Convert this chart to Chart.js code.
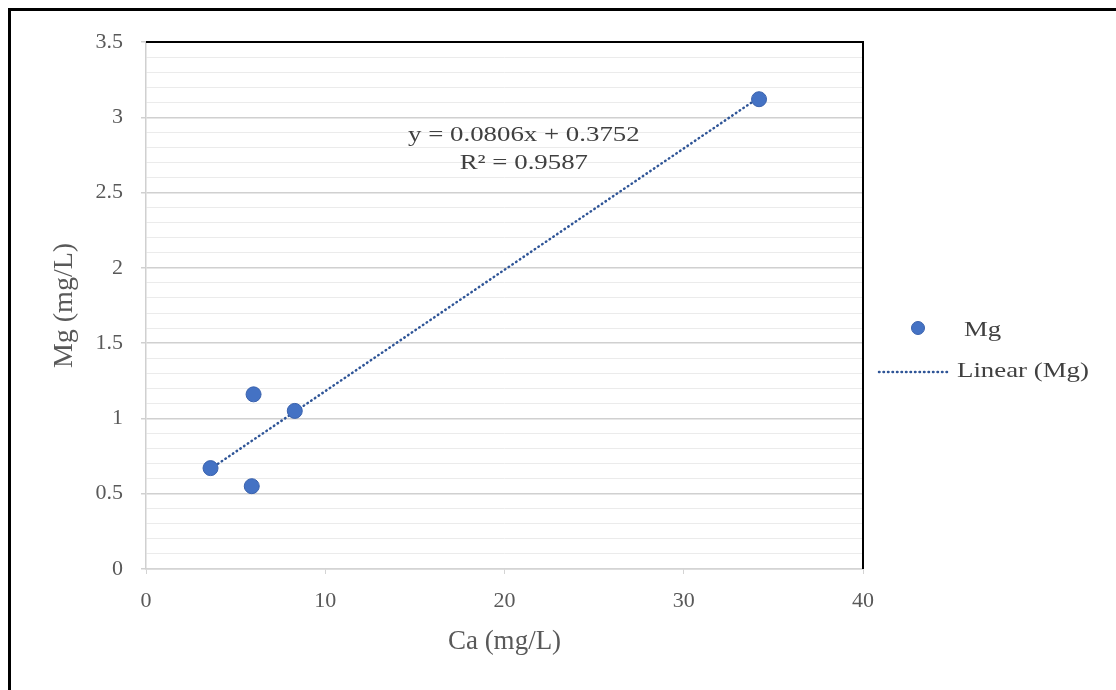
<!DOCTYPE html>
<html>
<head>
<meta charset="utf-8">
<script src="https://cdn.jsdelivr.net/npm/chart.js@4/dist/chart.umd.min.js"></script>
<style>
  html, body { margin: 0; padding: 0; background: #fff; }
  canvas { display: block; }
</style>
</head>
<body>
<canvas id="chart-scatter" width="1116" height="690"></canvas>
<script>
const SERIES_LABEL = "Mg";
const TREND_LABEL = "Linear (Mg)";
const caValues = [34.2, 8.3, 6.0, 3.6, 5.9];
const mgValues = [3.12, 1.05, 1.16, 0.67, 0.55];
const TREND_SLOPE = 0.0806;
const TREND_INTERCEPT = 0.3752;
const equationLines = ["y = 0.0806x + 0.3752", "R² = 0.9587"];
const xTicks = [0, 10, 20, 30, 40];
const yMajorTicks = [0, 0.5, 1, 1.5, 2, 2.5, 3, 3.5];

const FONT = "'Liberation Serif', 'Times New Roman', serif";
const TEXT_COLOR = "#595959";
const POINT_COLOR = "#4472C4";
const TEXT_STRETCH = 1.22; // текст в оригинале шире обычного Times

const points = caValues.map((x, i) => ({ x: x, y: mgValues[i] }));
const xMin = Math.min(...caValues);
const xMax = Math.max(...caValues);
const trendPoints = [
  { x: xMin, y: TREND_SLOPE * xMin + TREND_INTERCEPT },
  { x: xMax, y: TREND_SLOPE * xMax + TREND_INTERCEPT },
];

function isMajor(v) {
  return yMajorTicks.some((t) => Math.abs(t - v) < 1e-6);
}

function wideText(ctx, text, x, y, align) {
  ctx.save();
  ctx.translate(x, y);
  ctx.scale(TEXT_STRETCH, 1);
  ctx.textAlign = align;
  ctx.fillText(text, 0, 0);
  ctx.restore();
}

// рамки, уравнение и легенда
const decorPlugin = {
  id: "decor",
  afterDraw(chart) {
    const ctx = chart.ctx;
    const a = chart.chartArea;
    ctx.save();
    // внешняя рамка (только верх и лево)
    ctx.strokeStyle = "#000";
    ctx.lineWidth = 3;
    ctx.beginPath();
    ctx.moveTo(9.5, 690);
    ctx.lineTo(9.5, 9.5);
    ctx.lineTo(1116, 9.5);
    ctx.stroke();

    // верх и право области графика
    ctx.lineWidth = 2;
    ctx.beginPath();
    ctx.moveTo(a.left, a.top);
    ctx.lineTo(a.right, a.top);
    ctx.lineTo(a.right, a.bottom);
    ctx.stroke();

    // уравнение тренда
    ctx.fillStyle = "#404040";
    ctx.font = "22px " + FONT;
    ctx.textBaseline = "middle";
    const ex = a.left + (a.right - a.left) * 0.527;
    wideText(ctx, equationLines[0], ex, 135, "center");
    wideText(ctx, equationLines[1], ex, 163, "center");

    // легенда
    ctx.fillStyle = POINT_COLOR;
    ctx.strokeStyle = "#3a62ad";
    ctx.lineWidth = 1;
    ctx.beginPath();
    ctx.arc(918, 328, 6.5, 0, Math.PI * 2);
    ctx.fill();
    ctx.stroke();
    ctx.fillStyle = "#404040";
    wideText(ctx, chart.data.datasets[0].label, 964, 330, "left");

    ctx.strokeStyle = "#2f5597";
    ctx.lineWidth = 2.5;
    ctx.lineCap = "round";
    ctx.setLineDash([0.5, 4]);
    ctx.beginPath();
    ctx.moveTo(879, 372);
    ctx.lineTo(950, 372);
    ctx.stroke();
    ctx.setLineDash([]);
    wideText(ctx, chart.data.datasets[1].label, 957, 371, "left");
    ctx.restore();
  },
};

const ctx = document.getElementById("chart-scatter").getContext("2d");
new Chart(ctx, {
  type: "scatter",
  data: {
    datasets: [
      {
        label: SERIES_LABEL,
        data: points,
        backgroundColor: POINT_COLOR,
        borderColor: "#3a62ad",
        borderWidth: 1,
        pointRadius: 7.5,
        pointHoverRadius: 7.5,
        order: 1,
      },
      {
        type: "line",
        label: TREND_LABEL,
        data: trendPoints,
        borderColor: "#2f5597",
        borderWidth: 2.5,
        borderDash: [0.5, 4],
        borderCapStyle: "round",
        pointRadius: 0,
        fill: false,
        order: 2,
      },
    ],
  },
  plugins: [decorPlugin],
  options: {
    responsive: false,
    animation: false,
    layout: { padding: { top: 42, right: 253, bottom: 0, left: 0 } },
    plugins: {
      legend: { display: false },
      tooltip: { enabled: false },
    },
    scales: {
      x: {
        type: "linear",
        min: 0,
        max: 40,
        afterFit(scale) { scale.height = 121; },
        afterBuildTicks(scale) { scale.ticks = xTicks.map((v) => ({ value: v })); },
        ticks: {
          color: TEXT_COLOR,
          font: { family: FONT, size: 22 },
          padding: 14,
        },
        grid: {
          drawOnChartArea: false,
          drawTicks: true,
          tickLength: 5,
          tickColor: "#d4d4d4",
        },
        border: { color: "#d4d4d4", width: 1.5 },
        title: {
          display: true,
          text: "Ca (mg/L)",
          color: TEXT_COLOR,
          font: { family: FONT, size: 27 },
          padding: { top: 0, bottom: 32 },
        },
      },
      y: {
        type: "linear",
        min: 0,
        max: 3.5,
        afterFit(scale) { scale.width = 146; },
        ticks: {
          stepSize: 0.1,
          autoSkip: false,
          color: TEXT_COLOR,
          font: { family: FONT, size: 22 },
          padding: 18,
          callback: (v) => (isMajor(v) ? String(Math.round(v * 10) / 10) : ""),
        },
        grid: {
          color: (c) => (isMajor(c.tick.value) ? "#d0d0d0" : "#ebebeb"),
          lineWidth: (c) => (isMajor(c.tick.value) ? 1.5 : 1),
          tickColor: (c) => (isMajor(c.tick.value) ? "#d0d0d0" : "rgba(0,0,0,0)"),
          tickLength: 5,
        },
        border: { color: "#d0d0d0", width: 1.5 },
        title: {
          display: true,
          text: "Mg (mg/L)",
          color: TEXT_COLOR,
          font: { family: FONT, size: 28 },
          padding: { top: 48, bottom: 0 },
        },
      },
    },
  },
});
</script>
</body>
</html>
